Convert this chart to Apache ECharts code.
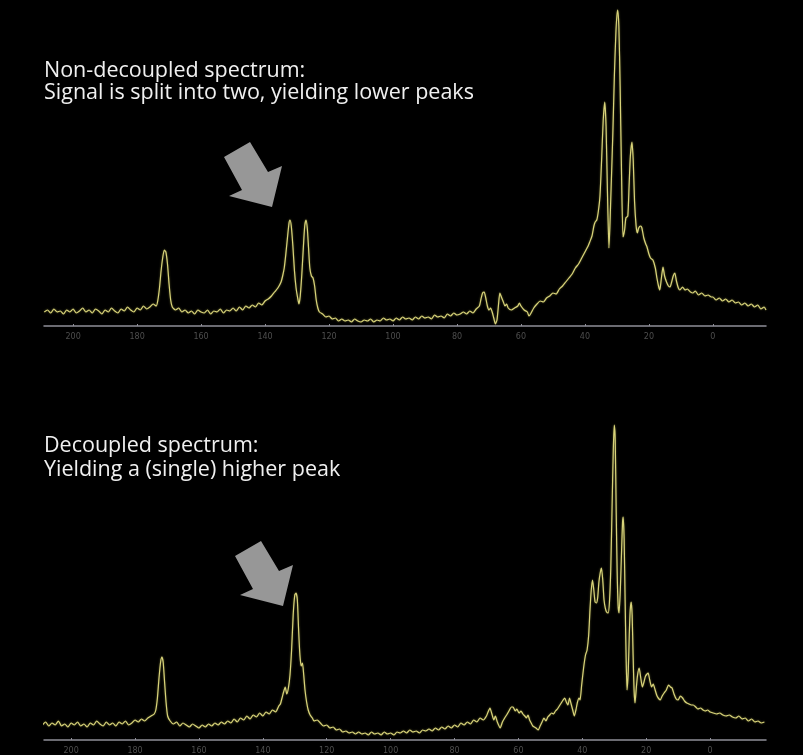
<!DOCTYPE html>
<html>
<head>
<meta charset="utf-8">
<script src="https://cdn.jsdelivr.net/npm/echarts@6/dist/echarts.min.js"></script>
<style>html,body{margin:0;padding:0;background:#000;}#c{width:803px;height:755px;}</style>
</head>
<body>
<div id="c"></div>
<script>
// Chemical shift tick labels (ppm)
const tickValues = [200, 180, 160, 140, 120, 100, 80, 60, 40, 20, 0];

// Non-decoupled spectrum: [ppm, intensity]
const nonDecoupledPpm = [209,208,207,206,205,204,203,202,201,200,199,198,197,196,195,194,193,192,191,190,189,188,187,186,185,184,183,182,181,180,179,178,177,176,175,174,173.5,173,172.5,172,171.5,171,170.5,170,169.5,169,168,167,166,165,164,163,162,161,160,159,158,157,156,155,154,153,152,151,150,149,148,147,146,145,144,143,142,141,140,139,138,137,136,135,134.5,134,133.5,133,132.5,132.2,131.8,131.3,130.8,130.3,129.8,129.4,129,128.5,128,127.6,127.2,126.8,126.4,126,125.5,125,124.5,124,123.5,123,122,121,120,119,118,117,116,115,114,113,112,111,110,109,108,107,106,105,104,103,102,101,100,99,98,97,96,95,94,93,92,91,90,89,88,87,86,85,84,83,82,81,80,79,78,77,76,75,74,73,72.5,72,71.5,71,70.5,70,69.5,69,68.5,68,67.5,67,66.6,66,65.5,65,64.5,64,63,62,61,60.5,60,59,58,57.5,57,56,55,54,53,52,51,50,49,48,47,46,45,44,43,42,41,40,39,38.5,37.8,37.2,36.8,36.3,35.8,35.3,34.8,34.3,33.8,33.4,33,32.5,32.2,31.8,31.3,30.8,30.3,29.8,29.4,29,28.6,28.1,27.6,27.2,26.6,26.2,25.8,25.3,24.9,24.5,24,23.6,23.2,22.6,22.2,21.6,21,20.6,20,19.5,18.75,18,17.5,17,16.6,16.1,15.6,15.1,14.5,13.9,13.4,12.9,12.4,11.9,11.4,10.8,10.3,9.5,8.7,8,7,6.25,5.5,4.5,3.5,2.5,1.5,0.5,0,-1,-2,-3,-4,-5,-6,-7,-8,-9,-10,-11,-12,-13,-14,-15,-16,-16.6];
const nonDecoupledInt = [14,16,13,17,14,15,12,16,14,17,13,15,18,14,16,13,17,15,12,16,14,18,15,13,17,15,19,16,14,18,16,20,17,19,22,20,26,38,55,68,76,74,62,42,26,19,16,18,14,16,13,15,12,16,14,13,16,12,15,14,17,13,16,15,18,15,19,16,20,18,21,19,23,21,25,27,30,34,38,44,50,58,72,88,103,106,100,80,55,38,28,22,30,52,80,100,106,98,78,58,50,48,40,26,18,14,12,9,10,7,8,5,7,5,6,4,7,5,4,6,5,7,4,6,5,8,6,7,5,8,6,9,7,8,6,9,7,10,8,9,7,11,9,10,8,12,10,13,11,12,14,12,15,13,17,20,27,33,34,28,20,16,18,14,8,2,6,22,33,28,24,20,22,18,16,18,20,23,20,16,14,10,12,18,22,25,24,28,30,33,32,37,40,44,48,52,58,62,68,74,80,84,90,100,104,106,115,130,165,205,224,200,140,78,100,140,190,250,295,316,300,240,160,89,96,108,110,140,170,184,165,125,100,93,98,100,98,88,82,79,72,68,66,58,48,40,36,48,59,50,44,40,39,44,50,53,45,38,36,39,36,37,34,33,35,31,33,30,31,29,29,26,28,25,27,24,26,23,24,21,23,20,22,19,21,17,19,16];

// Decoupled spectrum: [ppm, intensity]
const decoupledPpm = [209,208,207,206,205,204,203,202,201,200,199,198,197,196,195,194,193,192,191,190,189,188,187,186,185,184,183,182,181,180,179,178,177,176,175,174,173.5,173,172.5,172,171.6,171.2,170.8,170.3,169.8,169,168,167,166,165,164,163,162,161,160,159,158,157,156,155,154,153,152,151,150,149,148,147,146,145,144,143,142,141,140,139,138,137,136,135,134.5,134,133.5,133,132.5,132,131.5,131,130.5,130,129.6,129.2,128.8,128.4,128,127.6,127.2,126.8,126.3,125.8,125.2,124.5,124,123,122,121,120,119,118,117,116,115,114,113,112,111,110,109,108,107,106,105,104,103,102,101,100,99,98,97,96,95,94,93,92,91,90,89,88,87,86,85,84,83,82,81,80,79,78,77,76,75,74,73,72,71,70,69.5,68.9,68.3,67.7,67.2,66.6,65.7,65,64.3,63.5,62.8,62.2,61.7,61,60.5,59.8,59.2,58.6,58,57.5,57,56.5,56,55.5,54.5,53.8,53.2,52.6,52,51.4,50.8,50.2,49.6,49,48.4,47.8,47.2,46.6,46,45.5,45,44.5,44,43.5,43,42.5,42,41.5,41,40.7,40.2,39.6,39,38.5,38,37.6,37.2,36.8,36.4,36,35.6,35.2,34.8,34.4,34,33.6,33.2,32.8,32.4,31.9,31.5,31.1,30.7,30.3,30,29.7,29.4,29.1,28.8,28.5,28.1,27.7,27.4,27.2,26.9,26.6,26.3,26,25.6,25.3,25,24.7,24.4,24.1,23.8,23.5,23.1,22.7,22.2,21.7,21.2,20.7,20.2,19.4,18.9,18.3,17.8,17.2,16.6,15.6,15,14.4,13.7,13,12.4,11.9,11.3,10.6,10,9.3,8.6,8,7.3,6.6,5.9,5.3,4.5,3.8,3,2.2,1.5,0.8,0,-1,-2,-3,-4,-5,-6,-7,-8,-9,-10,-11,-12,-13,-14,-15,-16,-17];
const decoupledInt = [15,18,14,17,15,19,14,16,13,17,15,18,14,16,13,17,15,19,16,14,18,15,17,14,18,16,19,15,17,20,18,21,19,22,24,26,30,42,62,78,83,78,60,38,24,19,16,18,14,17,15,13,16,14,12,15,13,16,14,17,15,18,16,19,17,21,18,22,20,24,21,25,23,27,24,28,26,30,28,34,36,42,48,53,46,52,65,90,125,145,147,140,110,85,74,77,65,50,38,30,25,22,19,20,17,14,15,12,13,10,11,8,9,7,8,6,8,6,7,5,8,6,7,5,8,6,7,5,8,7,9,7,10,8,9,7,10,9,11,9,12,10,13,11,14,12,15,13,17,15,18,16,20,18,22,20,24,28,32,26,20,24,18,12,18,22,26,30,33,33,29,31,27,29,26,24,22,25,20,17,14,12,10,14,18,22,19,23,25,27,26,29,31,34,37,40,42,38,35,42,36,30,24,30,38,42,40,55,72,85,90,105,130,150,160,150,138,137,142,158,167,172,160,140,132,128,127,138,170,230,290,315,300,230,170,135,127,150,190,218,223,200,140,85,50,70,105,130,138,125,85,50,37,52,65,72,62,53,58,64,67,60,53,56,50,44,40,44,47,50,55,53,52,46,41,40,44,42,39,37,36,35,35,33,31,32,30,29,30,28,27,26,27,25,24,25,23,22,24,21,22,19,21,18,19,17,18];

const topTitle = ['Non-decoupled spectrum:', 'Signal is split into two, yielding lower peaks'];
const bottomTitle = ['Decoupled spectrum:', 'Yielding a (single) higher peak'];

const zip = (a, b) => a.map((v, i) => [v, b[i]]);

const chart = echarts.init(document.getElementById('c'), null, {renderer: 'canvas'});

function xAxisCfg(idx, min, max) {
  return {
    gridIndex: idx, type: 'value', inverse: true, min: min, max: max,
    splitLine: {show: false},
    axisLine: {show: true, onZero: false, lineStyle: {color: '#8e8e98', width: 1.5}},
    axisTick: {show: true, length: 2, inside: true, customValues: tickValues, lineStyle: {color: '#8e8e98'}},
    axisLabel: {show: true, customValues: tickValues, color: '#4e4e4e', fontSize: 8, margin: 7, fontFamily: 'DejaVu Sans'}
  };
}
function yAxisCfg(idx) {
  return {gridIndex: idx, type: 'value', min: 0, max: 320, show: false, splitLine: {show: false}};
}

const lineStyle = {color: '#d8d37a', width: 1.2, shadowColor: 'rgba(220,215,100,0.5)', shadowBlur: 2};

const arrowTop = [[224,157],[250,142],[268,172],[282,166],[272,207],[229,196],[242,190]];
const arrowBottom = arrowTop.map(p => [p[0] + 11, p[1] + 399]);

chart.setOption({
  backgroundColor: '#000',
  animation: false,
  grid: [
    {left: 44, width: 722, top: 6, height: 320},
    {left: 44, width: 722, top: 420, height: 320}
  ],
  xAxis: [xAxisCfg(0, -16.6, 209.1), xAxisCfg(1, -17.5, 208.5)],
  yAxis: [yAxisCfg(0), yAxisCfg(1)],
  series: [
    {type: 'line', xAxisIndex: 0, yAxisIndex: 0, data: zip(nonDecoupledPpm, nonDecoupledInt), showSymbol: false, smooth: 0.2, lineStyle: lineStyle},
    {type: 'line', xAxisIndex: 1, yAxisIndex: 1, data: zip(decoupledPpm, decoupledInt), showSymbol: false, smooth: 0.2, lineStyle: lineStyle}
  ],
  graphic: [
    {type: 'text', left: 44, top: 60, style: {text: topTitle.join('\n'), fill: '#f0f0f0', font: '21.5px "Open Sans"', lineHeight: 22}},
    {type: 'text', left: 44, top: 434, style: {text: bottomTitle.join('\n'), fill: '#f0f0f0', font: '21.5px "Open Sans"', lineHeight: 24}},
    {type: 'polygon', shape: {points: arrowTop}, style: {fill: '#979797'}},
    {type: 'polygon', shape: {points: arrowBottom}, style: {fill: '#979797'}}
  ]
});
</script>
</body>
</html>
